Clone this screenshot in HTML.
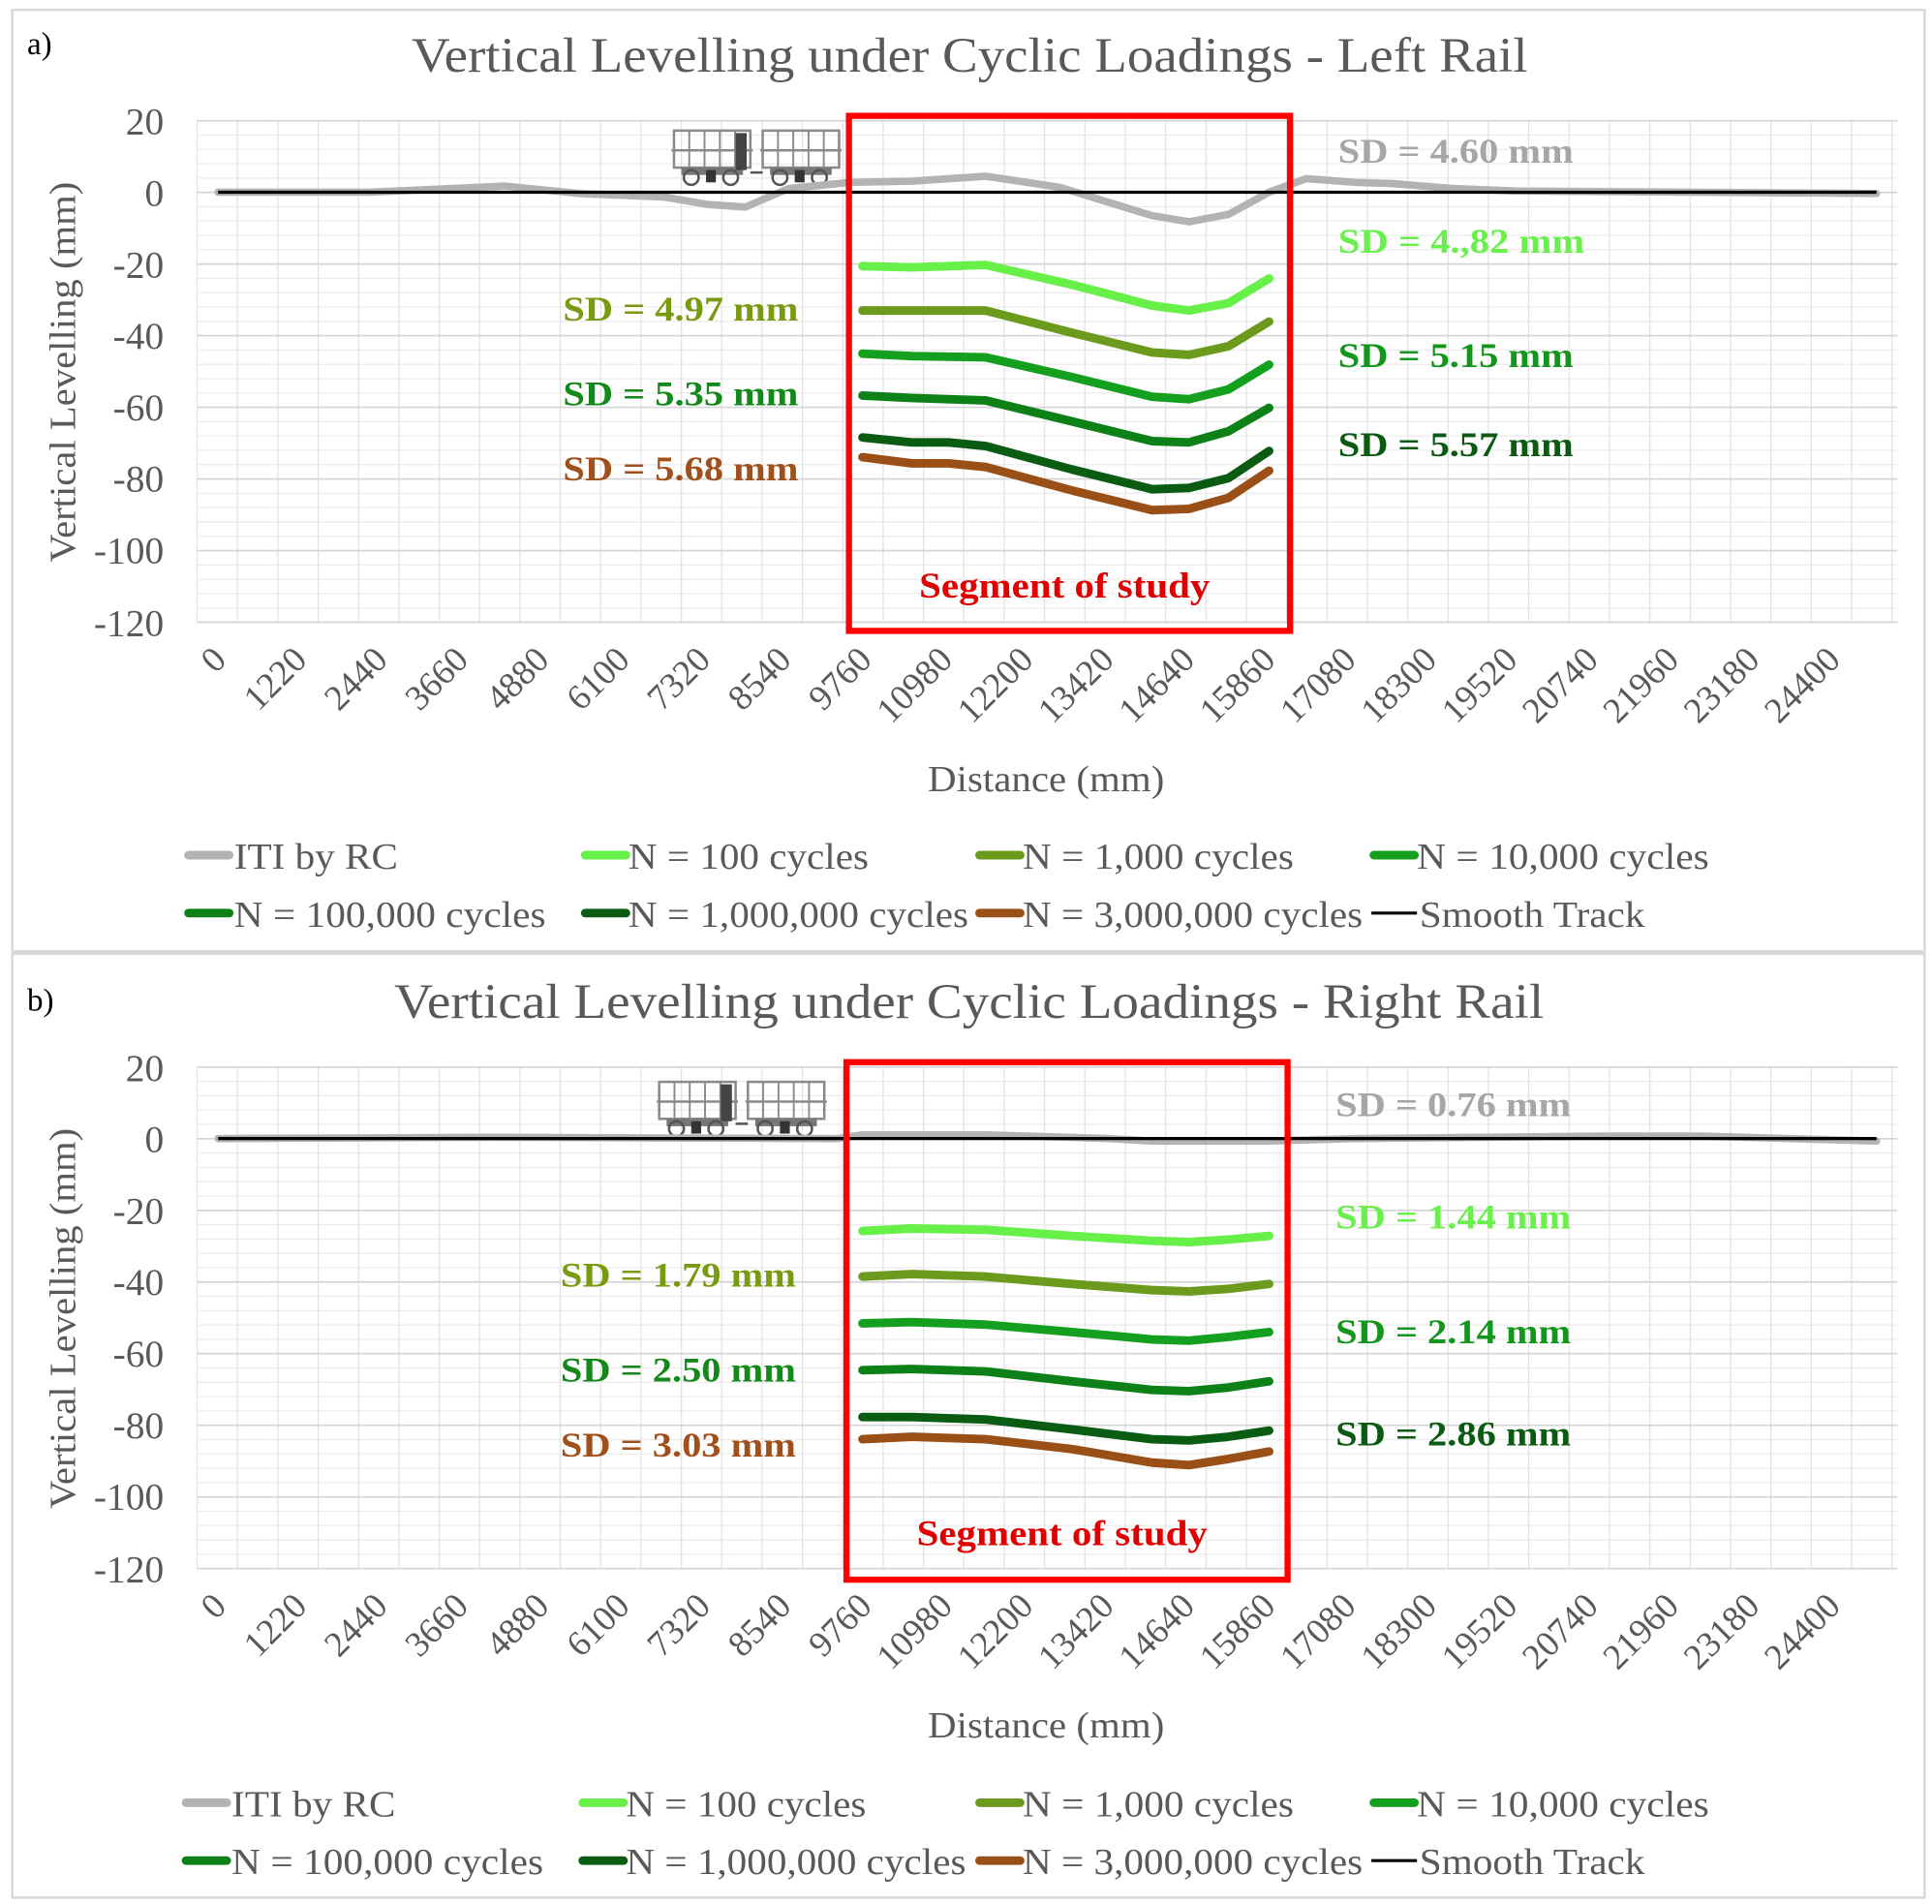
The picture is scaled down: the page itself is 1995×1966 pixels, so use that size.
<!DOCTYPE html>
<html><head><meta charset="utf-8"><style>
html,body{margin:0;padding:0;background:#fff;}
svg{display:block;}
text{font-family:"Liberation Serif",serif;}
.t{fill:#595959;}
.sd{font-weight:bold;font-size:28px;}
</style></head><body>
<svg id="s" width="1995" height="1966" viewBox="0 0 1568 1545.2" xmlns="http://www.w3.org/2000/svg">
<rect x="0" y="0" width="1568" height="1546" fill="#fff"/>
<rect x="10" y="8" width="1552" height="764" fill="none" stroke="#d9d9d9" stroke-width="2"/>
<rect x="10" y="774" width="1552" height="766" fill="none" stroke="#d9d9d9" stroke-width="2"/>

<!-- PANEL A -->
<g id="pa">
<g class="grid"></g>
<text x="22" y="44" font-size="26" fill="#000">a)</text>
<text class="t" x="334" y="58" font-size="40" textLength="906" lengthAdjust="spacingAndGlyphs">Vertical Levelling under Cyclic Loadings - Left Rail</text>
<g class="t" font-size="31" text-anchor="end">
<text x="133" y="109">20</text><text x="133" y="167">0</text><text x="133" y="225">-20</text><text x="133" y="283">-40</text><text x="133" y="341">-60</text><text x="133" y="399">-80</text><text x="133" y="457">-100</text><text x="133" y="516">-120</text>
</g>
<text class="t" font-size="30" text-anchor="middle" transform="translate(61,302) rotate(-90)" textLength="309" lengthAdjust="spacingAndGlyphs">Vertical Levelling (mm)</text>
<g class="t" font-size="29" text-anchor="end">
<text transform="translate(185,537) rotate(-45)">0</text>
<text transform="translate(250.5,537) rotate(-45)">1220</text>
<text transform="translate(316,537) rotate(-45)">2440</text>
<text transform="translate(381.5,537) rotate(-45)">3660</text>
<text transform="translate(447,537) rotate(-45)">4880</text>
<text transform="translate(512.5,537) rotate(-45)">6100</text>
<text transform="translate(578,537) rotate(-45)">7320</text>
<text transform="translate(643.5,537) rotate(-45)">8540</text>
<text transform="translate(709,537) rotate(-45)">9760</text>
<text transform="translate(774.5,537) rotate(-45)">10980</text>
<text transform="translate(840,537) rotate(-45)">12200</text>
<text transform="translate(905.5,537) rotate(-45)">13420</text>
<text transform="translate(971,537) rotate(-45)">14640</text>
<text transform="translate(1036.5,537) rotate(-45)">15860</text>
<text transform="translate(1102,537) rotate(-45)">17080</text>
<text transform="translate(1167.5,537) rotate(-45)">18300</text>
<text transform="translate(1233,537) rotate(-45)">19520</text>
<text transform="translate(1298.5,537) rotate(-45)">20740</text>
<text transform="translate(1364,537) rotate(-45)">21960</text>
<text transform="translate(1429.5,537) rotate(-45)">23180</text>
<text transform="translate(1495,537) rotate(-45)">24400</text>
</g>
<text class="t" x="753" y="642" font-size="30" textLength="192" lengthAdjust="spacingAndGlyphs">Distance (mm)</text>
<g class="train" transform="translate(545,100)"></g>
<polyline fill="none" stroke="#b3b3b3" stroke-width="6" stroke-linejoin="round" stroke-linecap="round" points="177,156 300,156 410,151 470,157 540,160 575,166 605,168 640,153 690,148 740,147 800,143 860,152 935,175 965,180 997,174 1030,156 1060,145 1100,148 1130,149 1180,153 1230,155 1523,157"/>
<line x1="177" y1="156" x2="1523" y2="156" stroke="#000" stroke-width="2.5"/>
<g fill="none" stroke-width="7" stroke-linejoin="round" stroke-linecap="round">
<polyline stroke="#66f048" points="700,216 740,217 800,215 870,231 935,248 965,252 997,246 1030,226"/>
<polyline stroke="#6b9a1c" points="700,252 740,252 800,252 870,270 935,286 965,288 997,281 1030,261"/>
<polyline stroke="#14a01e" points="700,287 740,289 800,290 870,306 935,322 965,324 997,316 1030,296"/>
<polyline stroke="#0e8018" points="700,321 740,323 800,325 870,342 935,358 965,359 997,350 1030,331"/>
<polyline stroke="#095c12" points="700,355 740,359 770,359 800,362 870,381 935,397 965,396 997,388 1030,366"/>
<polyline stroke="#9a4f16" points="700,371 740,376 770,376 800,379 870,398 935,414 965,413 997,404 1030,382"/>
</g>
<rect x="689" y="94" width="358" height="418" fill="none" stroke="#ff0000" stroke-width="5"/>
<text x="746" y="485" font-size="29" font-weight="bold" fill="#e00000" textLength="236" lengthAdjust="spacingAndGlyphs">Segment of study</text>
<text class="sd" x="1086" y="132" fill="#a6a6a6" textLength="191" lengthAdjust="spacingAndGlyphs">SD = 4.60 mm</text>
<text class="sd" x="1086" y="205" fill="#6af04c" textLength="200" lengthAdjust="spacingAndGlyphs">SD = 4.,82 mm</text>
<text class="sd" x="457" y="260" fill="#7a9a12" textLength="191" lengthAdjust="spacingAndGlyphs">SD = 4.97 mm</text>
<text class="sd" x="1086" y="298" fill="#12961c" textLength="191" lengthAdjust="spacingAndGlyphs">SD = 5.15 mm</text>
<text class="sd" x="457" y="329" fill="#13891a" textLength="191" lengthAdjust="spacingAndGlyphs">SD = 5.35 mm</text>
<text class="sd" x="1086" y="370" fill="#0a5a12" textLength="191" lengthAdjust="spacingAndGlyphs">SD = 5.57 mm</text>
<text class="sd" x="457" y="390" fill="#a0501a" textLength="191" lengthAdjust="spacingAndGlyphs">SD = 5.68 mm</text>
<g stroke-width="7" stroke-linecap="round">
<line x1="153" y1="694" x2="186" y2="694" stroke="#b3b3b3"/>
<line x1="475" y1="694" x2="508" y2="694" stroke="#66f048"/>
<line x1="795" y1="694" x2="828" y2="694" stroke="#6b9a1c"/>
<line x1="1115" y1="694" x2="1148" y2="694" stroke="#14a01e"/>
<line x1="153" y1="741" x2="186" y2="741" stroke="#0e8018"/>
<line x1="475" y1="741" x2="508" y2="741" stroke="#095c12"/>
<line x1="795" y1="741" x2="828" y2="741" stroke="#9a4f16"/>
</g>
<line x1="1113" y1="741" x2="1150" y2="741" stroke="#000" stroke-width="2.5"/>
<g class="t" font-size="30" lengthAdjust="spacingAndGlyphs">
<text x="190" y="705" textLength="133" lengthAdjust="spacingAndGlyphs">ITI by RC</text><text x="510" y="705" textLength="195" lengthAdjust="spacingAndGlyphs">N = 100 cycles</text><text x="830" y="705" textLength="220" lengthAdjust="spacingAndGlyphs">N = 1,000 cycles</text><text x="1150" y="705" textLength="237" lengthAdjust="spacingAndGlyphs">N = 10,000 cycles</text>
<text x="190" y="752" textLength="253" lengthAdjust="spacingAndGlyphs">N = 100,000 cycles</text><text x="510" y="752" textLength="276" lengthAdjust="spacingAndGlyphs">N = 1,000,000 cycles</text><text x="830" y="752" textLength="276" lengthAdjust="spacingAndGlyphs">N = 3,000,000 cycles</text><text x="1152" y="752" textLength="183" lengthAdjust="spacingAndGlyphs">Smooth Track</text>
</g>
</g>

<!-- PANEL B -->
<g id="pb" transform="translate(0,768)">
<g class="grid"></g>
<text x="22" y="52" font-size="26" fill="#000">b)</text>
<text class="t" x="320" y="58" font-size="40" textLength="933" lengthAdjust="spacingAndGlyphs">Vertical Levelling under Cyclic Loadings - Right Rail</text>
<g class="t" font-size="31" text-anchor="end">
<text x="133" y="109">20</text><text x="133" y="167">0</text><text x="133" y="225">-20</text><text x="133" y="283">-40</text><text x="133" y="341">-60</text><text x="133" y="399">-80</text><text x="133" y="457">-100</text><text x="133" y="516">-120</text>
</g>
<text class="t" font-size="30" text-anchor="middle" transform="translate(61,302) rotate(-90)" textLength="309" lengthAdjust="spacingAndGlyphs">Vertical Levelling (mm)</text>
<g class="t" font-size="29" text-anchor="end">
<text transform="translate(185,537) rotate(-45)">0</text>
<text transform="translate(250.5,537) rotate(-45)">1220</text>
<text transform="translate(316,537) rotate(-45)">2440</text>
<text transform="translate(381.5,537) rotate(-45)">3660</text>
<text transform="translate(447,537) rotate(-45)">4880</text>
<text transform="translate(512.5,537) rotate(-45)">6100</text>
<text transform="translate(578,537) rotate(-45)">7320</text>
<text transform="translate(643.5,537) rotate(-45)">8540</text>
<text transform="translate(709,537) rotate(-45)">9760</text>
<text transform="translate(774.5,537) rotate(-45)">10980</text>
<text transform="translate(840,537) rotate(-45)">12200</text>
<text transform="translate(905.5,537) rotate(-45)">13420</text>
<text transform="translate(971,537) rotate(-45)">14640</text>
<text transform="translate(1036.5,537) rotate(-45)">15860</text>
<text transform="translate(1102,537) rotate(-45)">17080</text>
<text transform="translate(1167.5,537) rotate(-45)">18300</text>
<text transform="translate(1233,537) rotate(-45)">19520</text>
<text transform="translate(1298.5,537) rotate(-45)">20740</text>
<text transform="translate(1364,537) rotate(-45)">21960</text>
<text transform="translate(1429.5,537) rotate(-45)">23180</text>
<text transform="translate(1495,537) rotate(-45)">24400</text>
</g>
<text class="t" x="753" y="642" font-size="30" textLength="192" lengthAdjust="spacingAndGlyphs">Distance (mm)</text>
<g class="train" transform="translate(533,104)"></g>
<polyline fill="none" stroke="#b3b3b3" stroke-width="6" stroke-linejoin="round" stroke-linecap="round" points="177,156 400,155 680,156 700,153 800,153 900,156 935,158 1030,158 1100,156 1300,154 1380,154 1523,158"/>
<line x1="177" y1="156" x2="1523" y2="156" stroke="#000" stroke-width="2.5"/>
<g fill="none" stroke-width="7" stroke-linejoin="round" stroke-linecap="round">
<polyline stroke="#66f048" points="700,231 740,229 800,230 870,235 935,239 965,240 997,238 1030,235"/>
<polyline stroke="#6b9a1c" points="700,268 740,266 800,268 870,274 935,279 965,280 997,278 1030,274"/>
<polyline stroke="#14a01e" points="700,306 740,305 800,307 870,313 935,319 965,320 997,317 1030,313"/>
<polyline stroke="#0e8018" points="700,344 740,343 800,345 870,353 935,360 965,361 997,358 1030,353"/>
<polyline stroke="#095c12" points="700,382 740,382 800,384 870,392 935,400 965,401 997,398 1030,393"/>
<polyline stroke="#9a4f16" points="700,400 740,398 800,400 870,408 935,419 965,421 997,416 1030,410"/>
</g>
<rect x="687" y="94" width="358" height="420" fill="none" stroke="#ff0000" stroke-width="5"/>
<text x="744" y="486" font-size="29" font-weight="bold" fill="#e00000" textLength="236" lengthAdjust="spacingAndGlyphs">Segment of study</text>
<text class="sd" x="1084" y="138" fill="#a6a6a6" textLength="191" lengthAdjust="spacingAndGlyphs">SD = 0.76 mm</text>
<text class="sd" x="1084" y="229" fill="#6af04c" textLength="191" lengthAdjust="spacingAndGlyphs">SD = 1.44 mm</text>
<text class="sd" x="455" y="276" fill="#7a9a12" textLength="191" lengthAdjust="spacingAndGlyphs">SD = 1.79 mm</text>
<text class="sd" x="1084" y="322" fill="#12961c" textLength="191" lengthAdjust="spacingAndGlyphs">SD = 2.14 mm</text>
<text class="sd" x="455" y="353" fill="#13891a" textLength="191" lengthAdjust="spacingAndGlyphs">SD = 2.50 mm</text>
<text class="sd" x="1084" y="405" fill="#0a5a12" textLength="191" lengthAdjust="spacingAndGlyphs">SD = 2.86 mm</text>
<text class="sd" x="455" y="414" fill="#a0501a" textLength="191" lengthAdjust="spacingAndGlyphs">SD = 3.03 mm</text>
<g stroke-width="7" stroke-linecap="round">
<line x1="151" y1="695" x2="184" y2="695" stroke="#b3b3b3"/>
<line x1="473" y1="695" x2="506" y2="695" stroke="#66f048"/>
<line x1="795" y1="695" x2="828" y2="695" stroke="#6b9a1c"/>
<line x1="1115" y1="695" x2="1148" y2="695" stroke="#14a01e"/>
<line x1="151" y1="742" x2="184" y2="742" stroke="#0e8018"/>
<line x1="473" y1="742" x2="506" y2="742" stroke="#095c12"/>
<line x1="795" y1="742" x2="828" y2="742" stroke="#9a4f16"/>
</g>
<line x1="1113" y1="742" x2="1150" y2="742" stroke="#000" stroke-width="2.5"/>
<g class="t" font-size="30">
<text x="188" y="706" textLength="133" lengthAdjust="spacingAndGlyphs">ITI by RC</text><text x="508" y="706" textLength="195" lengthAdjust="spacingAndGlyphs">N = 100 cycles</text><text x="830" y="706" textLength="220" lengthAdjust="spacingAndGlyphs">N = 1,000 cycles</text><text x="1150" y="706" textLength="237" lengthAdjust="spacingAndGlyphs">N = 10,000 cycles</text>
<text x="188" y="753" textLength="253" lengthAdjust="spacingAndGlyphs">N = 100,000 cycles</text><text x="508" y="753" textLength="276" lengthAdjust="spacingAndGlyphs">N = 1,000,000 cycles</text><text x="830" y="753" textLength="276" lengthAdjust="spacingAndGlyphs">N = 3,000,000 cycles</text><text x="1152" y="753" textLength="183" lengthAdjust="spacingAndGlyphs">Smooth Track</text>
</g>
</g>
</svg>
<script>
var NS="http://www.w3.org/2000/svg";
function el(p,n,a){var e=document.createElementNS(NS,n);for(var k in a)e.setAttribute(k,a[k]);p.appendChild(e);return e;}
document.querySelectorAll('.grid').forEach(function(g){
  var L=160,R=1540,T=98,B=505;
  for(var y=T;y<=B+0.5;y+=58.14/5){el(g,'line',{x1:L,x2:R,y1:y,y2:y,stroke:'#ececec','stroke-width':1});}
  for(var x=L;x<=R+0.5;x+=32.75){el(g,'line',{x1:x,x2:x,y1:T,y2:B,stroke:'#e3e3e3','stroke-width':1});}
  for(var i=0;i<=7;i++){var y=T+i*58.14;el(g,'line',{x1:L,x2:R,y1:y,y2:y,stroke:'#d4d4d4','stroke-width':1.3});}
});
document.querySelectorAll('.train').forEach(function(g){
  var c='#8a8a8a';
  [0,72].forEach(function(o){
    el(g,'rect',{x:o+2,y:6,width:62,height:30,fill:'none',stroke:c,'stroke-width':2});
    for(var i=1;i<5;i++)el(g,'line',{x1:o+2+i*12.4,x2:o+2+i*12.4,y1:6,y2:36,stroke:c,'stroke-width':1.5});
    el(g,'line',{x1:o,x2:o+66,y1:22,y2:22,stroke:c,'stroke-width':2});
    el(g,'rect',{x:o+8,y:36,width:50,height:6,fill:'#777'});
    el(g,'circle',{cx:o+16,cy:44,r:6,fill:'none',stroke:'#555','stroke-width':2});
    el(g,'circle',{cx:o+48,cy:44,r:6,fill:'none',stroke:'#555','stroke-width':2});
    el(g,'rect',{x:o+28,y:38,width:8,height:10,fill:'#333'});
  });
  el(g,'rect',{x:52,y:8,width:9,height:30,fill:'#444'});
  el(g,'line',{x1:64,x2:74,y1:40,y2:40,stroke:'#555','stroke-width':2});
});
</script>
</body></html>
